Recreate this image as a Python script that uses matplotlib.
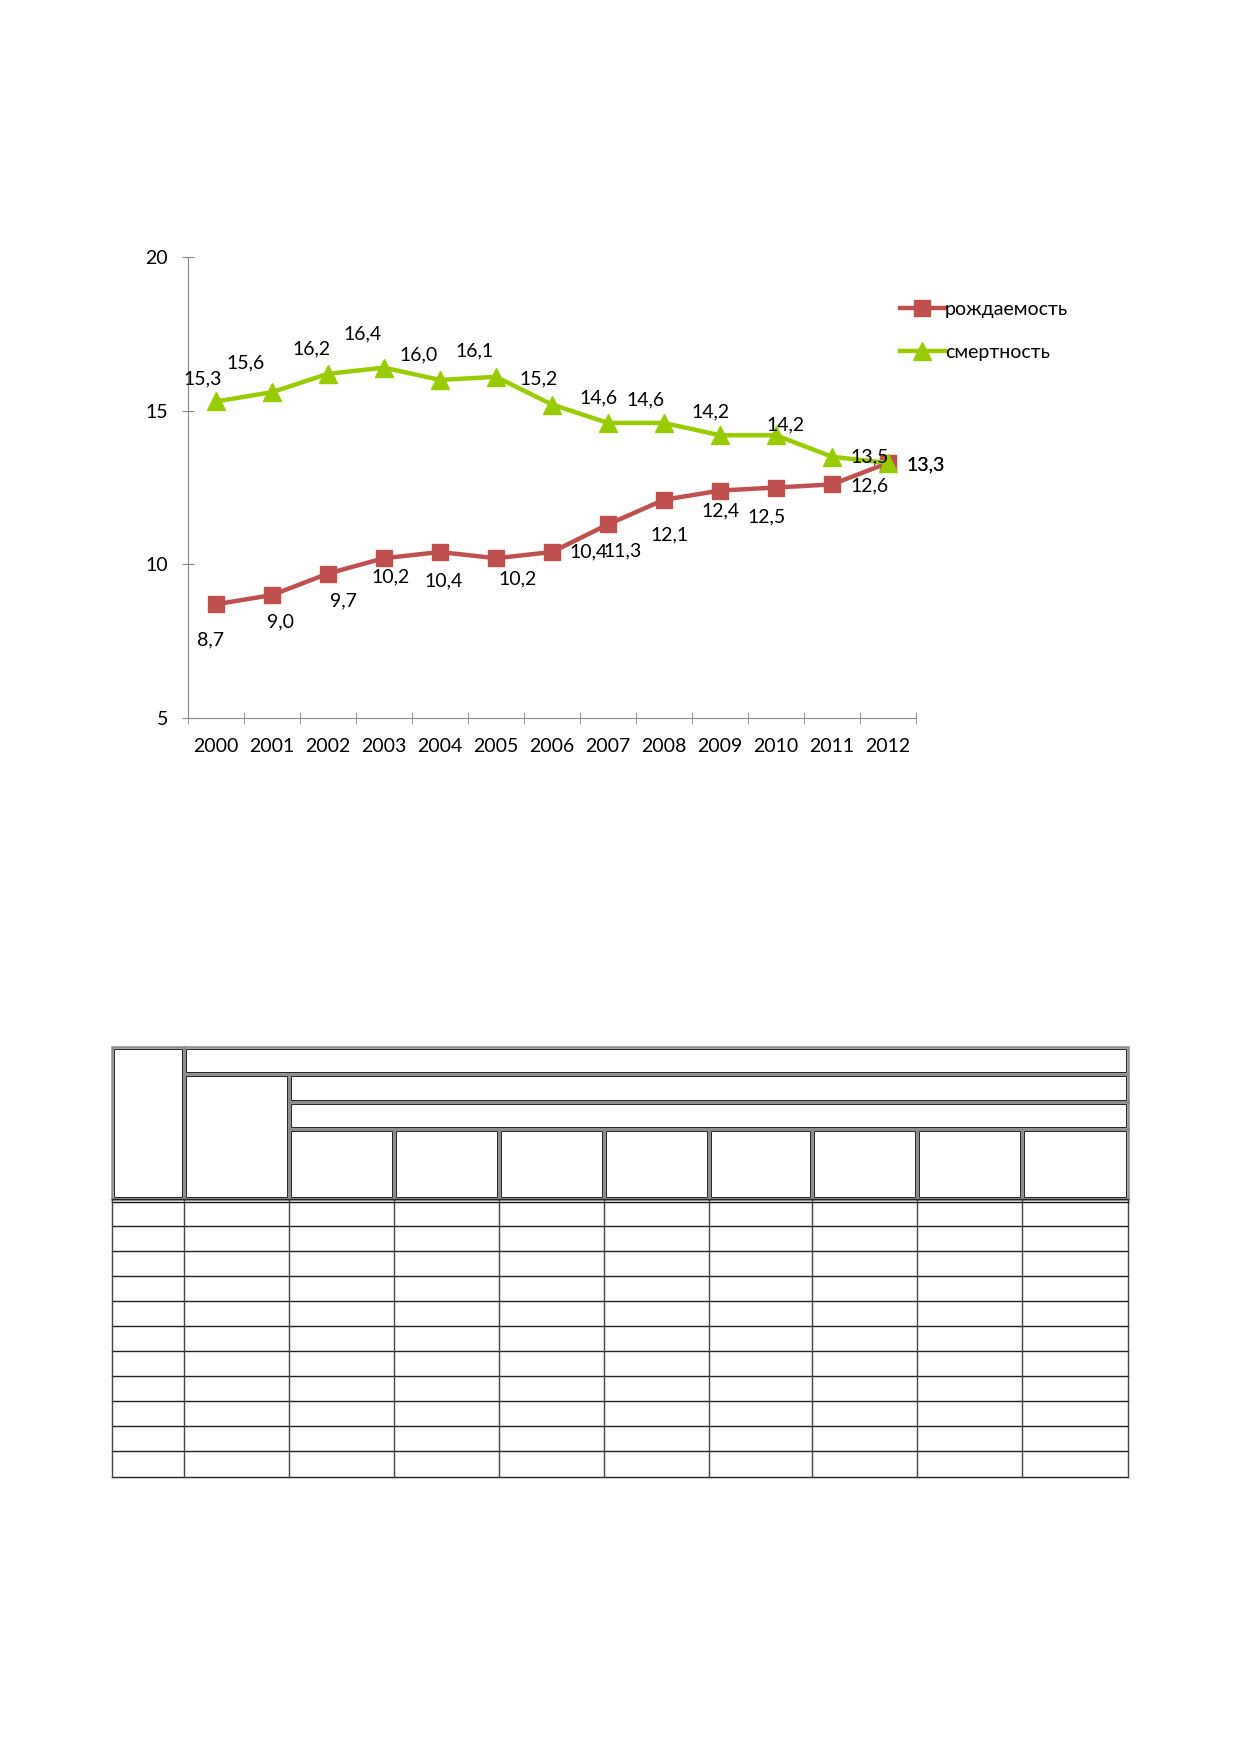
import matplotlib.pyplot as plt
from matplotlib.patches import Rectangle

plt.rcParams['font.family'] = ['Lato', 'DejaVu Sans']

years = ['2000', '2001', '2002', '2003', '2004', '2005', '2006',
         '2007', '2008', '2009', '2010', '2011', '2012']
births = [8.7, 9.0, 9.7, 10.2, 10.4, 10.2, 10.4, 11.3, 12.1, 12.4, 12.5, 12.6, 13.3]
deaths = [15.3, 15.6, 16.2, 16.4, 16.0, 16.1, 15.2, 14.6, 14.6, 14.2, 14.2, 13.5, 13.3]
series_names = ['рождаемость', 'смертность']

# label offsets in pixels (dx right, dy down)
births_off = [(-6, 36), (9, 27), (15, 27), (7, 19), (4, 29), (22, 21), (37, 0),
              (15, 26), (6, 35), (1, 20), (-9, 29), (38, 1), (38, 2)]
deaths_off = [(-13, -23), (-26, -29), (-16, -25), (-21, -34), (-21, -25), (-21, -26),
              (-13, -26), (-9, -25), (-18, -23), (-9, -23), (10, -10), (38, 0), (38, 2)]

FS = 14
W, H = 1239, 1752
fig = plt.figure(figsize=(W / 100, H / 100), dpi=100)

ax = fig.add_axes([188 / W, 1 - 718 / H, 728 / W, 461 / H])
x = list(range(len(years)))
ax.plot(x, births, color='#C0504D', lw=3.2, marker='s', markersize=11.5,
        label=series_names[0], zorder=3)
ax.plot(x, deaths, color='#99CC00', lw=3.2, marker='^', markersize=13,
        label=series_names[1], zorder=3)

def fmt(v):
    return f"{v:.1f}".replace('.', ',')

for i, v in enumerate(births):
    dx, dy = births_off[i]
    ax.annotate(fmt(v), (i, v), xytext=(dx, -dy), textcoords='offset pixels',
                ha='center', va='center', fontsize=FS, zorder=4)
for i, v in enumerate(deaths):
    dx, dy = deaths_off[i]
    ax.annotate(fmt(v), (i, v), xytext=(dx, -dy), textcoords='offset pixels',
                ha='center', va='center', fontsize=FS, zorder=4)

ax.set_xlim(-0.5, len(years) - 0.5)
ax.set_ylim(5, 20)
ax.set_yticks([5, 10, 15, 20])
ax.set_xticks(x)
ax.set_xticklabels(years)
ax.set_xticks([i - 0.5 for i in range(len(years) + 1)], minor=True)
for s in ['top', 'right']:
    ax.spines[s].set_visible(False)
for s in ['left', 'bottom']:
    ax.spines[s].set_color('#868686')
ax.tick_params(axis='x', which='major', length=0, pad=14.5, labelsize=FS)
ax.tick_params(axis='x', which='minor', direction='inout', length=8.5, color='#868686')
ax.tick_params(axis='y', direction='inout', length=8.5, color='#868686', pad=10,
               labelsize=FS)
ax.patch.set_alpha(0)

ax.legend(loc='upper left', bbox_to_anchor=(900 / W, 1 - 301 / H),
          bbox_transform=fig.transFigure, frameon=False, fontsize=FS,
          borderpad=0, borderaxespad=0, handlelength=2.3, handletextpad=0.0,
          labelspacing=1.35)

# empty table below the chart
tab = fig.add_axes([0, 0, 1, 1])
tab.set_xlim(0, W)
tab.set_ylim(H, 0)
tab.axis('off')

cols = [112, 184, 289, 394, 499, 604, 709, 812, 917, 1022, 1128]
head_rows = [1047, 1074, 1102, 1129, 1199]
body_rows = [1199, 1226, 1251, 1276, 1301, 1326, 1351, 1376, 1401, 1426, 1451, 1477]

def head_cell(x0, y0, x1, y1):
    tab.add_patch(Rectangle((x0, y0), x1 - x0, y1 - y0, fill=False,
                            ec='#8c8c8c', lw=1.8))
    tab.add_patch(Rectangle((x0 + 2, y0 + 2), x1 - x0 - 4, y1 - y0 - 4, fill=False,
                            ec='#222222', lw=0.7))

head_cell(cols[0], head_rows[0], cols[1], head_rows[4])
head_cell(cols[1], head_rows[0], cols[-1], head_rows[1])
head_cell(cols[1], head_rows[1], cols[2], head_rows[4])
head_cell(cols[2], head_rows[1], cols[-1], head_rows[2])
head_cell(cols[2], head_rows[2], cols[-1], head_rows[3])
for j in range(2, len(cols) - 1):
    head_cell(cols[j], head_rows[3], cols[j + 1], head_rows[4])

for y in body_rows:
    tab.plot([cols[0], cols[-1]], [y, y], color='#222222', lw=1.0)
for c in cols:
    tab.plot([c, c], [body_rows[0], body_rows[-1]], color='#444444', lw=1.0)
tab.plot([cols[0], cols[-1]], [body_rows[0] + 3, body_rows[0] + 3], color='#111111', lw=1.0)

fig.savefig('out.png', dpi=100)
